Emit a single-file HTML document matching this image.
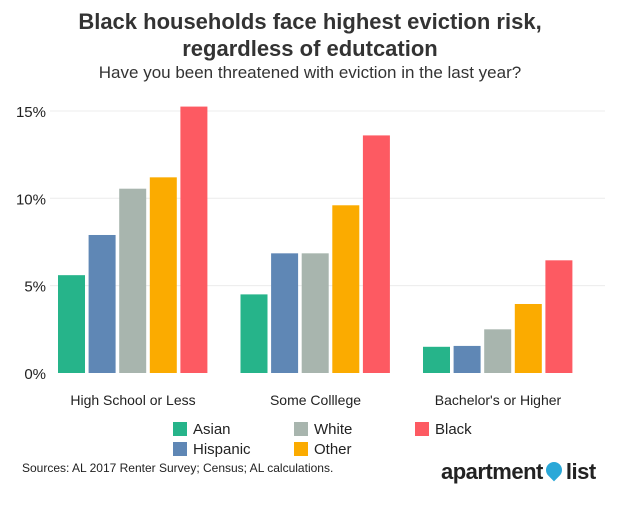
<!DOCTYPE html>
<html><head><meta charset="utf-8">
<style>
body{margin:0;background:#fff;font-family:"Liberation Sans",sans-serif;}
#wrap{position:relative;width:620px;height:508px;overflow:hidden;}
.t{position:absolute;white-space:nowrap;color:#222;}
</style></head><body>
<div id="wrap">
<div class="t" style="left:0;width:620px;text-align:center;top:8px;font-size:22px;font-weight:bold;line-height:27px;color:#333">Black households face highest eviction risk,<br>regardless of edutcation</div>
<div class="t" style="left:0;width:620px;text-align:center;top:63px;font-size:17px;color:#333">Have you been threatened with eviction in the last year?</div>
<svg id="svg" width="620" height="508" style="position:absolute;left:0;top:0"></svg>
<div class="t" style="left:22px;top:461px;font-size:12px;color:#222">Sources: AL 2017 Renter Survey; Census; AL calculations.</div>
<div class="t" style="left:441px;top:459px;font-size:22px;font-weight:bold;color:#222;letter-spacing:-0.5px">apartment<span style="display:inline-block;width:16px;height:16px;background:#2aa8d8;border-radius:50% 50% 50% 0;transform:rotate(-45deg);margin:0 4px 0 3px;vertical-align:1px"></span>list</div>
</div>
<script>
const categories=["High School or Less","Some Colllege","Bachelor's or Higher"];
const seriesNames=["Asian","Hispanic","White","Other","Black"];
const colors=["#26b48a","#5f87b5","#a8b5ae","#fbab00","#fd5a62"];
const asian=[5.6,4.5,1.5];
const hispanic=[7.9,6.85,1.55];
const white=[10.55,6.85,2.5];
const other=[11.2,9.6,3.95];
const black=[15.25,13.6,6.45];
const tickVals=[0,5,10,15];
const tickLabels=["0%","5%","10%","15%"];
const series=[asian,hispanic,white,other,black];
const svg=document.getElementById('svg');
const NS='http://www.w3.org/2000/svg';
const y0=373,pxPer=17.47;
function yS(v){return y0-v*pxPer;}
function gX(g){return 58+g*182.5;}
function mk(tag,attrs){const e=document.createElementNS(NS,tag);for(const k in attrs)e.setAttribute(k,attrs[k]);svg.appendChild(e);return e;}
tickVals.forEach((v,i)=>{
 if(v>0){const l=mk('line',{x1:50,x2:605,y1:yS(v),y2:yS(v),stroke:'#ececec','stroke-width':1});
 
 }
 const t=mk('text',{x:46,y:yS(v)+6,'text-anchor':'end','font-size':15,fill:'#222','font-family':'Liberation Sans, sans-serif'});
 t.textContent=tickLabels[i];
 
 
});
categories.forEach((c,g)=>{
 series.forEach((s,i)=>{
  const x=gX(g)+i*30.6;
  const r=mk('rect',{x:x,y:yS(s[g]),width:27,height:s[g]*pxPer,fill:colors[i]});
  
  
 });
 const t=mk('text',{x:gX(g)+75,y:405,'text-anchor':'middle','font-size':14,fill:'#222','font-family':'Liberation Sans, sans-serif'});
 t.textContent=c;
 
 
});
const legPos=[[173,429],[173,449],[294,429],[294,449],[415,429]];
seriesNames.forEach((n,i)=>{
 const [x,y]=legPos[i];
 const r=mk('rect',{x:x,y:y-7,width:14,height:14,fill:colors[i]});
 
 
 const t=mk('text',{x:x+20,y:y+5,'font-size':15,fill:'#222','font-family':'Liberation Sans, sans-serif'});
 t.textContent=n;
 
 
});
</script>
</body></html>
